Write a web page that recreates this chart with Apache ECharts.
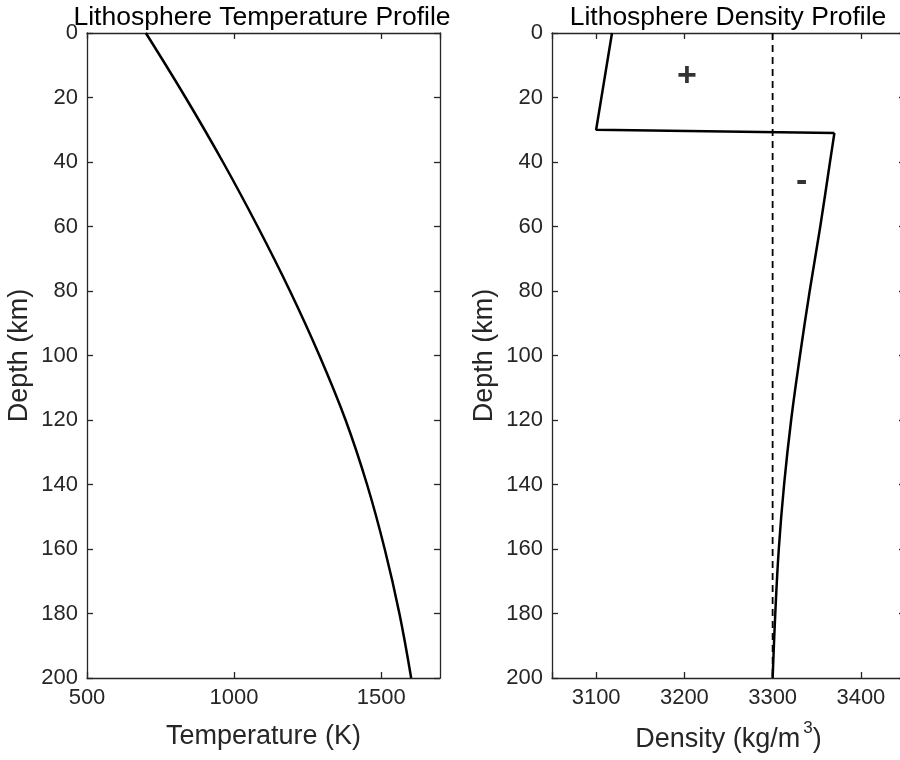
<!DOCTYPE html>
<html>
<head>
<meta charset="utf-8">
<script src="https://cdn.jsdelivr.net/npm/echarts@6/dist/echarts.min.js"></script>
<style>
  html, body { margin: 0; padding: 0; background: #fff; }
  #chart { width: 900px; height: 760px; }
</style>
</head>
<body>
<div id="chart"></div>
<script>
// temperature profile
const depthKm = [0, 20, 40, 60, 80, 100, 120, 140, 160, 180, 200]
const temperatureK = [700, 835, 962, 1080, 1190, 1290, 1379, 1452, 1512, 1562, 1602]

// density profile: crust, then mantle
const crustDepthKm = [0, 30, 31]
const crustDensity = [3118, 3100, 3370]
const mantleDepthKm = [31, 40, 60, 80, 100, 120, 140, 160, 180, 200]
const mantleDensity = [3370, 3365, 3354, 3342, 3331, 3321, 3313, 3307, 3303, 3300]
const referenceDensity = 3300

// +/- markers
const markText = ['+', '-']
const markDensity = [3203, 3333]
const markDepth = [13.5, 46]

const axisColor = '#262626'
const font = 'Liberation Sans, Arial, Helvetica, sans-serif'

function boxAxes(gridIndex, position, opts) {
  const main = position === 'bottom' || position === 'left'
  return Object.assign({
    gridIndex: gridIndex,
    type: 'value',
    position: position,
    splitLine: { show: false },
    axisLine: { show: true, onZero: false, lineStyle: { color: axisColor, width: 1.3 } },
    axisTick: { show: true, inside: true, length: 6, lineStyle: { color: axisColor, width: 1.3 } },
    axisLabel: {
      show: main,
      color: axisColor,
      fontSize: 22,
      fontFamily: font,
      margin: 9
    },
    nameTextStyle: { color: axisColor, fontSize: 27, fontFamily: font }
  }, opts)
}

const chart = echarts.init(document.getElementById('chart'))

const xRange1 = { min: 500, max: 1700, interval: 500 }
const xRange2 = { min: 3050, max: 3450 }
const yRange = { min: 0, max: 200, interval: 20, inverse: true }

const titleStyle = { fontSize: 26.5, fontWeight: 'normal', color: '#000', fontFamily: font }
const lineStyle = { color: '#000', width: 2.5 }

const option = {
  animation: false,
  backgroundColor: '#fff',
  title: [
    { text: 'Lithosphere Temperature Profile', left: 257, top: -1, textAlign: 'center', textStyle: titleStyle },
    { text: 'Lithosphere Density Profile', left: 723, top: -1, textAlign: 'center', textStyle: titleStyle }
  ],
  grid: [
    { left: 87, top: 33, width: 353, height: 645, outerBoundsMode: 'none' },
    { left: 552, top: 33, width: 353, height: 645, outerBoundsMode: 'none' }
  ],
  xAxis: [
    boxAxes(0, 'bottom', Object.assign({
      name: 'Temperature (K)',
      nameLocation: 'middle',
      nameGap: 45
    }, xRange1, {
      axisLabel: {
        color: axisColor, fontSize: 22, fontFamily: font, margin: 9,
        showMaxLabel: false, formatter: v => String(v)
      }
    })),
    boxAxes(0, 'top', Object.assign({}, xRange1)),
    boxAxes(1, 'bottom', Object.assign({
      name: 'Density (kg/m{sup|3})',
      nameLocation: 'middle',
      nameGap: 42,
      nameTextStyle: {
        color: axisColor,
        fontSize: 27,
        fontFamily: font,
        rich: {
          sup: { fontSize: 17, fontFamily: font, color: axisColor, verticalAlign: 'top', padding: [0, 0, 22, 3] }
        }
      }
    }, xRange2, {
      axisLabel: {
        color: axisColor, fontSize: 22, fontFamily: font, margin: 9,
        formatter: v => (v % 100 === 0 ? String(v) : '')
      }
    })),
    boxAxes(1, 'top', Object.assign({}, xRange2))
  ],
  yAxis: [
    boxAxes(0, 'left', Object.assign({
      name: 'Depth (km)',
      nameLocation: 'middle',
      nameRotate: 90,
      nameGap: 54
    }, yRange)),
    boxAxes(0, 'right', Object.assign({}, yRange)),
    boxAxes(1, 'left', Object.assign({
      name: 'Depth (km)',
      nameLocation: 'middle',
      nameRotate: 90,
      nameGap: 54
    }, yRange)),
    boxAxes(1, 'right', Object.assign({}, yRange))
  ],
  series: [
    {
      name: 'Temperature',
      type: 'line',
      xAxisIndex: 0,
      yAxisIndex: 0,
      data: depthKm.map((d, i) => [temperatureK[i], d]),
      smooth: 0.4,
      symbol: 'none',
      lineStyle: lineStyle
    },
    {
      name: 'Reference',
      type: 'line',
      xAxisIndex: 2,
      yAxisIndex: 2,
      data: [[referenceDensity, 0], [referenceDensity, 200]],
      symbol: 'none',
      lineStyle: { color: '#000', width: 1.8, type: [7, 5] }
    },
    {
      name: 'Crust density',
      type: 'line',
      xAxisIndex: 2,
      yAxisIndex: 2,
      data: crustDepthKm.map((d, i) => [crustDensity[i], d]),
      symbol: 'none',
      lineStyle: lineStyle
    },
    {
      name: 'Mantle density',
      type: 'line',
      xAxisIndex: 2,
      yAxisIndex: 2,
      data: mantleDepthKm.map((d, i) => [mantleDensity[i], d]),
      smooth: 0.4,
      symbol: 'none',
      lineStyle: lineStyle
    },
    {
      name: 'Marks',
      type: 'scatter',
      xAxisIndex: 2,
      yAxisIndex: 2,
      symbolSize: 0,
      data: markText.map((t, i) => ({ value: [markDensity[i], markDepth[i]], name: t })),
      label: {
        show: true,
        position: 'inside',
        formatter: p => p.name,
        color: '#000',
        fontSize: 34,
        fontWeight: 'bold',
        fontFamily: font
      }
    }
  ]
}

chart.setOption(option)
</script>
</body>
</html>
